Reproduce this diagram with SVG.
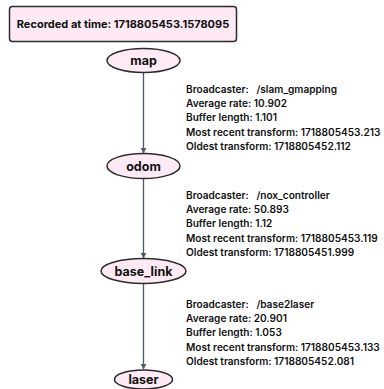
<svg xmlns="http://www.w3.org/2000/svg" width="384" height="389" viewBox="0 0 384 389">
<style>
.node ellipse{fill:#fdeaf4;stroke:#2b2b2b;stroke-width:1.5}
.lbl{font-family:Inter,"Liberation Sans",sans-serif;font-weight:700;font-size:12.5px;fill:#111;text-anchor:middle}
.info{font-family:Inter,"Liberation Sans",sans-serif;font-weight:600;font-size:10.1px;fill:#111;white-space:pre}
.edge{stroke:#4f5669;stroke-width:1.3;fill:none;marker-end:url(#arr)}
</style>
<defs>
<marker id="arr" viewBox="0 0 10 10" refX="9" refY="5" markerWidth="6" markerHeight="6" orient="auto" markerUnits="userSpaceOnUse">
<path d="M0,0 L10,5 L0,10 z" fill="#4f5669"/>
</marker>
</defs>
<rect width="384" height="389" fill="#fff"/>
<g id="title">
<rect x="9.5" y="6.5" width="227" height="35" rx="3" fill="#fdeaf4" stroke="#2b2b2b" stroke-width="1.5"/>
<text class="lbl" x="123" y="28" style="font-size:11px">Recorded at time: 1718805453.1578095</text>
</g>
<g id="edges">
<line class="edge" x1="143.5" y1="72.5" x2="143.5" y2="153"/>
<line class="edge" x1="143.5" y1="178.5" x2="143.5" y2="258"/>
<line class="edge" x1="143.5" y1="283.5" x2="143.5" y2="369"/>
</g>
<g id="map" class="node"><ellipse cx="143.5" cy="60.5" rx="36.5" ry="12"/><text class="lbl" x="143.5" y="65">map</text></g>
<g id="odom" class="node"><ellipse cx="143.5" cy="166" rx="36.5" ry="12.5"/><text class="lbl" x="143.5" y="170.5">odom</text></g>
<g id="base_link" class="node"><ellipse cx="143.5" cy="271" rx="42.5" ry="12.5"/><text class="lbl" x="143.5" y="275.5">base_link</text></g>
<g id="laser" class="node"><ellipse cx="143.5" cy="379.5" rx="29" ry="9.5"/><text class="lbl" x="143.5" y="384">laser</text></g>
<g id="info1" class="info">
<text x="186" y="93" xml:space="preserve">Broadcaster:   /slam_gmapping</text>
<text x="186" y="107">Average rate: 10.902</text>
<text x="186" y="121">Buffer length: 1.101</text>
<text x="186" y="136">Most recent transform: 1718805453.213</text>
<text x="186" y="150">Oldest transform: 1718805452.112</text>
</g>
<g id="info2" class="info">
<text x="186" y="199" xml:space="preserve">Broadcaster:   /nox_controller</text>
<text x="186" y="213">Average rate: 50.893</text>
<text x="186" y="227">Buffer length: 1.12</text>
<text x="186" y="242">Most recent transform: 1718805453.119</text>
<text x="186" y="256">Oldest transform: 1718805451.999</text>
</g>
<g id="info3" class="info">
<text x="186" y="308" xml:space="preserve">Broadcaster:   /base2laser</text>
<text x="186" y="322">Average rate: 20.901</text>
<text x="186" y="336">Buffer length: 1.053</text>
<text x="186" y="351">Most recent transform: 1718805453.133</text>
<text x="186" y="365">Oldest transform: 1718805452.081</text>
</g>
</svg>
